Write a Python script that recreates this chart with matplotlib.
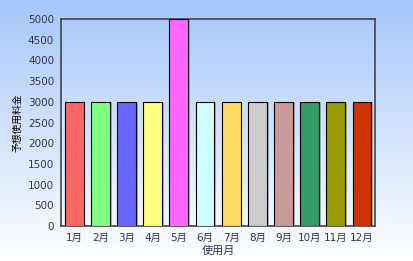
import matplotlib
matplotlib.use('Agg')
import matplotlib.pyplot as plt
import numpy as np

plt.rcParams['font.family'] = ['DejaVu Sans', 'Noto Sans CJK JP']

months = ['1月', '2月', '3月', '4月', '5月', '6月', '7月', '8月', '9月', '10月', '11月', '12月']
fees = [3000, 3000, 3000, 3000, 5000, 3000, 3000, 3000, 3000, 3000, 3000, 3000]
colors = ['#ff6666', '#80ff80', '#6666ff', '#ffff80', '#ff66ff', '#ccffff',
          '#ffd966', '#cccccc', '#cc9999', '#339966', '#999900', '#cc3300']
yticks = [0, 500, 1000, 1500, 2000, 2500, 3000, 3500, 4000, 4500, 5000]

fig = plt.figure(figsize=(4.13, 2.61), dpi=100)

# background gradient: light blue at top fading to white
bg = fig.add_axes([0, 0, 1, 1], zorder=-10)
grad = np.linspace(0, 1, 256).reshape(-1, 1)
top = np.array([0.65, 0.78, 0.98])
bot = np.array([1.0, 1.0, 1.0])
img = top + (bot - top) * grad[:, :, None]
bg.imshow(img, aspect='auto', extent=[0, 1, 0, 1])
bg.axis('off')

ax = fig.add_axes([0.148, 0.134, 0.760, 0.793])
ax.patch.set_alpha(0)
x = np.arange(len(months))

# shadows
ax.bar(x + 0.07, fees, width=0.72, color='#777777', alpha=0.5, zorder=2)
ax.bar(x, fees, width=0.72, color=colors, edgecolor='black', linewidth=0.8, zorder=3)

ax.set_xlim(-0.5, 11.5)
ax.set_ylim(0, 5000)
ax.set_xticks(x)
ax.set_xticklabels(months)
ax.set_yticks(yticks)
txtc = '#333355'
ax.tick_params(length=0, labelsize=7.5, colors=txtc, pad=5)
ax.set_xlabel('使用月', fontsize=8, color=txtc, labelpad=2)
ax.set_ylabel('予想使用料金', fontsize=7, color='black', labelpad=4)
for s in ax.spines.values():
    s.set_color('#444444')
    s.set_linewidth(1.2)

fig.savefig('out.png', dpi=100)
